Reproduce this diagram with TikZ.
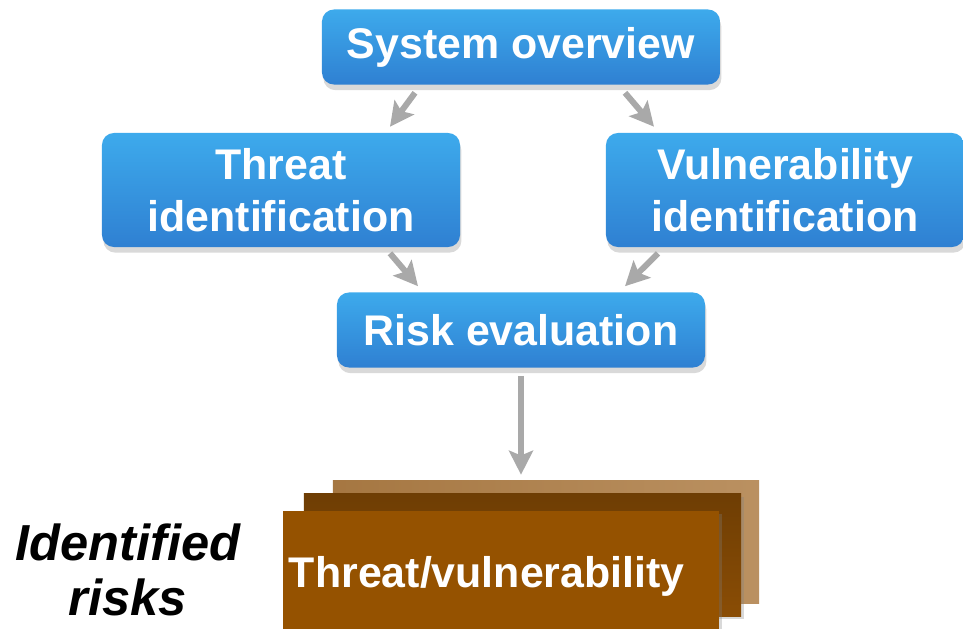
\documentclass[tikz,border=0pt]{standalone}
\usepackage{fontspec}
\setmainfont{Liberation Sans}
\usetikzlibrary{arrows.meta,calc,shadows}
\definecolor{boxtop}{HTML}{3DAAEC}
\definecolor{boxbot}{HTML}{2F80D2}
\definecolor{arrgray}{HTML}{A9A9A9}
\definecolor{brownfront}{HTML}{955200}
\definecolor{brownmid}{HTML}{8A4D05}
\definecolor{brownback}{HTML}{AE7D45}
\begin{document}
\begin{tikzpicture}[x=0.025cm,y=-0.025cm,
  font=\fontsize{30.5}{37}\selectfont\bfseries,
  box/.style={rounded corners=0.3cm,top color=boxtop,bottom color=boxbot,text=white,align=center,inner sep=0pt,
    drop shadow={shadow xshift=1pt,shadow yshift=-4pt,opacity=0.3}},
  sheet/.style={minimum height=3.05cm,inner sep=0pt},
  arr/.style={-{Stealth[width=0.6cm,length=0.6cm,inset=0.12cm]},line width=0.15cm,arrgray}]
\useasboundingbox (0,0) rectangle (963,629);
\clip (0,0) rectangle (963,629);
\node[box,minimum width=9.95cm,minimum height=1.875cm] (sys) at (521,47) {System overview};
\node[box,minimum width=8.95cm,minimum height=2.85cm] (threat) at (281,190) {Threat\\identification};
\node[box,minimum width=8.95cm,minimum height=2.85cm] (vuln) at (785,190) {Vulnerability\\identification};
\node[box,minimum width=9.2cm,minimum height=1.875cm] (risk) at (521,330) {Risk evaluation};
% stacked result sheets
\node[sheet,minimum width=10.65cm,left color=brownback!95!black,right color=brownback!85!white] (back) at (546,542) {};
\node[sheet,minimum width=10.925cm,top color=brownmid!80!black,bottom color=brownmid,
  drop shadow={shadow xshift=2pt,shadow yshift=-2pt,opacity=0.3}] (mid) at (522.5,555) {};
\node[sheet,minimum width=10.9cm,fill=brownfront,text=white,text width=10.6cm,text depth=0pt,align=left,inner xsep=0.15cm,
  drop shadow={shadow xshift=2pt,shadow yshift=-2pt,opacity=0.3}] (front) at (501,572) {Threat/vulnerability};
\node[font=\fontsize{36}{39}\selectfont\bfseries\itshape,align=center] (ident) at (128,570) {Identified\\risks};
\draw[arr] ($(sys.south)+(-106,8)$) -- ($(threat.north)+(109,-6)$);
\draw[arr] ($(sys.south)+(104,8)$) -- ($(vuln.north)+(-131,-6)$);
\draw[arr] ($(threat.south)+(109,6)$) -- ($(risk.north)+(-103,-6)$);
\draw[arr] ($(vuln.south)+(-127,6)$) -- ($(risk.north)+(104,-6)$);
\draw[arr] ($(risk.south)+(0,8)$) -- ($(risk.south |- back.north)+(0,-6)$);
\end{tikzpicture}
\end{document}
